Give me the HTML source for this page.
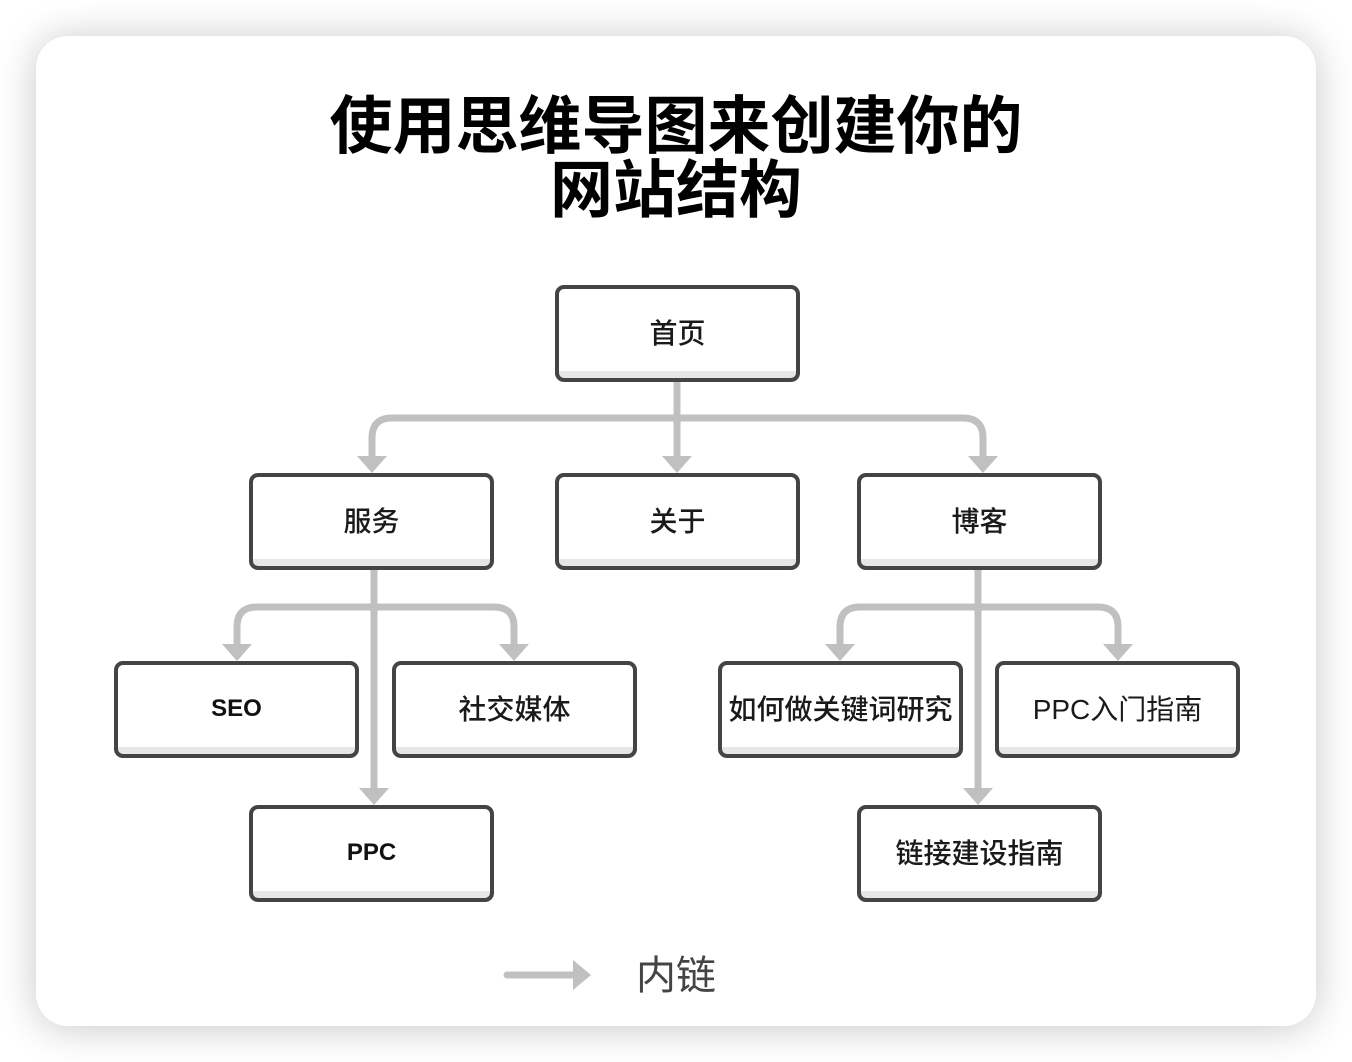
<!DOCTYPE html>
<html>
<head>
<meta charset="utf-8">
<style>
  html, body { margin:0; padding:0; background:#fff; }
  body { width:1352px; height:1062px; position:relative; overflow:hidden;
         font-family:"Liberation Sans","Noto Sans CJK SC",sans-serif; }
  .card { position:absolute; left:36px; top:36px; width:1280px; height:990px;
          background:#fff; border-radius:32px;
          box-shadow:0 2px 40px rgba(0,0,0,0.22); }
  .title { position:absolute; left:0; top:95px; width:1352px; text-align:center;
           font-family:"Liberation Sans","Noto Sans CJK SC",sans-serif;
           font-size:63px; line-height:64px; font-weight:700; color:#000; }
  svg { position:absolute; left:0; top:0; }
  .box { position:absolute; box-sizing:border-box; width:245px; height:97px;
         border:4.5px solid #444; border-radius:9px;
         background:linear-gradient(to bottom,#fff 0,#fff calc(100% - 7px),#e6e6e6 calc(100% - 7px),#e6e6e6 100%);
         display:flex; align-items:center; justify-content:center;
         padding-bottom:3px;
         font-family:"Liberation Sans","Noto Sans CJK SC",sans-serif;
         font-size:28px; font-weight:500; color:#1a1a1a; white-space:nowrap; }
  .lat { font-weight:bold; font-size:24px; color:#111; position:relative; top:1px; }
  .legend { position:absolute; left:636px; top:952px; font-size:40px; line-height:48px;
            color:#444; font-family:"Liberation Sans","Noto Sans CJK SC",sans-serif; }
</style>
</head>
<body>
<div class="card"></div>
<div class="title">使用思维导图来创建你的<br>网站结构</div>

<svg width="1352" height="1062" viewBox="0 0 1352 1062">
  <g fill="none" stroke="#c0c0c0" stroke-width="7">
    <path d="M677 382 L677 458"/>
    <path d="M372 458 L372 438 Q372 418 392 418 L963 418 Q983 418 983 438 L983 458"/>
    <path d="M374 568 L374 790"/>
    <path d="M237 646 L237 627 Q237 607 257 607 L494 607 Q514 607 514 627 L514 646"/>
    <path d="M978 568 L978 790"/>
    <path d="M840 646 L840 627 Q840 607 860 607 L1098 607 Q1118 607 1118 627 L1118 646"/>
    <path d="M507 975 L576 975" stroke-linecap="round"/>
  </g>
  <g fill="#c0c0c0">
    <polygon points="662,456 692,456 677,473"/>
    <polygon points="357,456 387,456 372,473"/>
    <polygon points="968,456 998,456 983,473"/>
    <polygon points="222,644 252,644 237,661"/>
    <polygon points="499,644 529,644 514,661"/>
    <polygon points="825,644 855,644 840,661"/>
    <polygon points="1103,644 1133,644 1118,661"/>
    <polygon points="359,788 389,788 374,805"/>
    <polygon points="963,788 993,788 978,805"/>
    <polygon points="573,960 591,975 573,990"/>
  </g>
</svg>

<div class="box" style="left:555px;top:285px;">首页</div>
<div class="box" style="left:249px;top:473px;">服务</div>
<div class="box" style="left:555px;top:473px;">关于</div>
<div class="box" style="left:857px;top:473px;">博客</div>
<div class="box" style="left:114px;top:661px;"><span class="lat">SEO</span></div>
<div class="box" style="left:392px;top:661px;">社交媒体</div>
<div class="box" style="left:718px;top:661px;">如何做关键词研究</div>
<div class="box" style="left:995px;top:661px;font-weight:normal;">PPC入门指南</div>
<div class="box" style="left:249px;top:805px;"><span class="lat">PPC</span></div>
<div class="box" style="left:857px;top:805px;">链接建设指南</div>

<div class="legend">内链</div>
</body>
</html>
